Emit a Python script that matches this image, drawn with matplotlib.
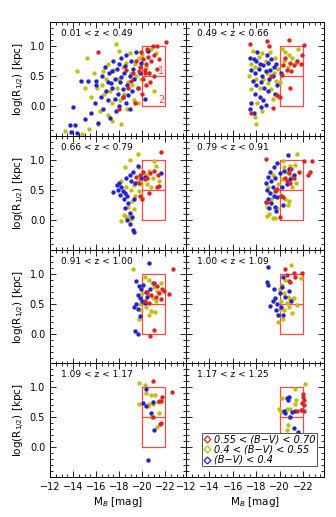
import numpy as np
import matplotlib
matplotlib.use('Agg')
import matplotlib.pyplot as plt
from matplotlib.ticker import MultipleLocator, FixedLocator
from matplotlib.lines import Line2D

# redshift bins (one per panel)
z_labels = ['0.01 < z < 0.49', '0.49 < z < 0.66', '0.66 < z < 0.79', '0.79 < z < 0.91',
            '0.91 < z < 1.00', '1.00 < z < 1.09', '1.09 < z < 1.17', '1.17 < z < 1.25']

# (M_B, log R1/2) per panel, per colour class
blue_pts = [
    [[-13.7,-0.31],[-14.2,-0.31],[-13.8,-0.44],[-14.3,-0.45],[-14.0,-0.02],[-14.7,0.42],[-15.3,0.41],
     [-16.0,0.42],[-16.0,0.35],[-15.0,-0.22],[-15.6,-0.12],[-16.2,-0.28],[-16.6,-0.05],[-17.0,0.10],
     [-17.2,-0.20],[-16.9,0.25],[-17.4,0.30],[-17.6,0.45],[-17.1,0.55],[-17.8,0.62],[-18.0,0.70],
     [-17.5,0.75],[-18.2,0.80],[-18.6,0.85],[-18.4,0.55],[-18.1,0.40],[-17.9,0.20],[-18.3,0.15],
     [-18.6,0.05],[-18.0,0.00],[-17.7,-0.08],[-18.7,0.35],[-18.9,0.50],[-19.2,0.62],[-19.0,0.75],
     [-19.5,0.90],[-19.3,0.45],[-19.6,0.30],[-19.1,0.25],[-18.8,0.18],[-17.3,0.38],[-16.5,0.50],
     [-16.8,0.65],[-19.8,0.55],[-20.2,0.12],[-20.5,0.92],[-19.9,0.72],[-18.5,0.66],[-17.0,0.40],
     [-18.3,0.28],[-18.9,-0.05],[-16.4,0.15],[-15.9,0.05],[-17.6,0.12],[-18.2,0.48],[-17.4,0.58]],
    [[-17.5,0.80],[-17.8,0.78],[-18.0,0.75],[-18.3,0.70],[-18.6,0.68],[-19.0,0.72],[-17.6,0.60],
     [-17.9,0.55],[-18.2,0.62],[-18.5,0.50],[-18.8,0.58],[-19.2,0.60],[-19.5,0.65],[-17.7,0.42],
     [-18.0,0.35],[-18.4,0.40],[-18.7,0.30],[-19.1,0.45],[-19.4,0.50],[-17.9,0.20],[-18.3,0.15],
     [-18.6,0.10],[-19.0,0.25],[-17.6,0.05],[-17.5,-0.05],[-17.8,-0.12],[-18.9,0.85],[-19.3,0.78],
     [-19.7,0.70],[-18.1,0.90],[-19.8,0.35],[-20.1,0.55],[-18.4,-0.02],[-19.6,0.20],[-18.8,0.02]],
    [[-17.5,0.46],[-17.8,0.58],[-18.0,0.62],[-18.2,0.55],[-18.3,0.48],[-18.5,0.45],[-18.7,0.40],
     [-18.4,0.35],[-18.1,0.42],[-18.6,0.70],[-18.9,0.75],[-19.2,0.80],[-19.0,0.65],[-19.4,0.62],
     [-18.8,0.28],[-18.5,0.20],[-18.9,0.12],[-19.1,0.05],[-18.7,0.00],[-18.9,-0.07],[-19.2,-0.17],
     [-19.25,-0.20],[-19.6,0.90],[-19.9,0.70],[-20.2,0.72],[-21.6,0.78],[-19.3,0.35],[-17.9,0.50]],
    [[-20.7,1.08],[-19.8,0.95],[-19.5,0.88],[-19.2,0.80],[-19.0,0.72],[-18.8,0.62],[-19.3,0.65],
     [-19.6,0.70],[-20.0,0.78],[-20.4,0.82],[-20.8,0.85],[-18.9,0.50],[-19.2,0.45],[-19.5,0.40],
     [-19.0,0.35],[-18.8,0.30],[-19.3,0.28],[-19.6,0.22],[-19.1,0.20],[-19.8,0.38],[-20.2,0.55],
     [-20.6,0.60],[-19.4,0.55],[-20.9,0.68],[-21.2,0.75],[-19.7,0.15],[-20.3,0.25]],
    [[-20.6,1.18],[-19.5,0.88],[-19.7,0.80],[-19.9,0.75],[-20.1,0.82],[-20.3,0.70],[-19.6,0.65],
     [-19.8,0.60],[-20.0,0.55],[-19.5,0.50],[-19.3,0.45],[-19.6,0.42],[-20.4,0.62],[-20.7,0.75],
     [-21.0,0.85],[-19.4,0.05],[-19.6,0.00],[-20.2,0.52],[-19.8,0.30]],
    [[-19.05,1.11],[-18.9,0.87],[-19.0,0.82],[-19.5,0.75],[-20.3,0.95],[-20.0,0.68],[-19.6,0.60],
     [-19.4,0.55],[-19.2,0.47],[-19.8,0.50],[-20.1,0.45],[-20.5,0.62],[-20.8,0.72],[-19.9,0.32],
     [-20.3,0.32],[-19.7,0.40],[-20.2,0.78],[-21.0,0.55]],
    [[-20.3,0.97],[-20.1,0.74],[-20.3,0.68],[-20.8,0.57],[-21.0,0.28],[-20.5,-0.22],[-20.9,0.75]],
    [[-20.6,0.82],[-20.7,0.79],[-20.8,0.84],[-20.4,0.60],[-20.45,0.57],[-21.3,0.60],[-21.1,0.58],
     [-20.9,0.50],[-21.2,0.32],[-21.6,0.25]],
]

yellow_pts = [
    [[-13.3,-0.42],[-14.8,-0.46],[-15.4,-0.38],[-14.3,0.58],[-15.0,0.30],[-15.8,0.55],[-16.3,-0.08],
     [-16.7,0.20],[-16.1,0.30],[-15.6,0.15],[-17.0,-0.15],[-17.4,0.05],[-17.8,0.30],[-17.5,0.60],
     [-17.9,0.45],[-18.3,0.65],[-18.0,0.92],[-18.6,0.72],[-18.8,0.40],[-19.1,0.35],[-19.4,0.70],
     [-19.7,0.80],[-19.0,0.55],[-18.4,0.20],[-18.7,-0.05],[-19.3,0.10],[-19.6,0.05],[-20.0,0.85],
     [-20.4,0.92],[-20.8,0.95],[-21.2,0.88],[-20.3,0.65],[-21.0,0.25],[-19.9,0.45],[-17.2,0.25],
     [-16.5,0.35],[-16.9,0.45],[-18.1,0.10],[-18.9,0.88],[-17.7,1.03],[-20.6,0.55],[-17.0,0.70],
     [-19.5,0.50],[-16.2,-0.30],[-17.4,-0.25],[-18.2,-0.30],[-15.2,0.80],[-16.6,0.58]],
    [[-17.6,0.70],[-17.9,0.65],[-18.2,0.82],[-18.5,0.88],[-18.8,0.75],[-19.2,0.90],[-19.5,0.55],
     [-19.9,0.62],[-20.2,0.95],[-20.5,0.90],[-20.8,0.85],[-21.1,0.80],[-20.4,0.75],[-21.4,0.72],
     [-18.0,0.45],[-18.3,0.30],[-18.6,0.45],[-19.0,0.38],[-19.3,0.28],[-19.7,0.42],[-17.6,0.28],
     [-18.1,0.05],[-18.5,-0.08],[-17.9,-0.18],[-18.0,-0.30],[-19.4,0.12],[-19.9,0.15],[-20.0,0.40],
     [-17.4,0.50],[-18.9,0.55],[-21.6,0.95],[-20.7,0.65],[-19.6,0.80],[-17.7,0.92]],
    [[-18.9,1.00],[-19.6,1.10],[-18.2,0.65],[-18.6,0.55],[-19.0,0.50],[-19.3,0.58],[-19.6,0.65],
     [-19.9,0.60],[-20.3,0.75],[-20.6,0.82],[-20.9,0.70],[-21.2,0.90],[-21.5,0.65],[-20.4,0.60],
     [-19.7,0.48],[-19.4,0.40],[-19.1,0.32],[-18.8,0.22],[-18.4,0.08],[-18.6,0.05],[-19.0,0.02],
     [-18.2,-0.02],[-18.8,0.05],[-19.3,0.18],[-20.0,0.38],[-20.8,0.55],[-19.7,0.88],[-18.5,0.88],
     [-21.0,0.98]],
    [[-21.5,1.10],[-20.3,0.98],[-20.9,0.90],[-21.3,0.92],[-20.6,0.80],[-21.0,0.72],[-21.4,0.62],
     [-20.2,0.68],[-19.9,0.60],[-19.4,0.75],[-19.0,0.55],[-19.7,0.48],[-20.1,0.42],[-20.5,0.35],
     [-20.8,0.32],[-19.3,0.35],[-18.9,0.22],[-19.1,0.10],[-18.9,0.07],[-19.4,0.03],[-19.6,0.03],
     [-20.7,0.25],[-21.1,0.55],[-20.4,0.88],[-19.8,0.20]],
    [[-19.2,1.09],[-20.2,0.95],[-20.6,0.90],[-21.0,0.78],[-21.3,0.72],[-20.5,0.65],[-20.0,0.68],
     [-19.8,0.50],[-20.9,0.60],[-20.8,0.38],[-21.1,0.37],[-20.6,0.32],[-19.9,0.40],[-21.6,0.85],
     [-20.3,0.45],[-19.7,0.25],[-21.2,0.55]],
    [[-20.95,1.15],[-21.8,0.93],[-20.5,0.90],[-20.2,0.82],[-20.0,0.75],[-20.4,0.68],[-20.7,0.62],
     [-20.9,0.58],[-21.2,0.60],[-20.1,0.55],[-20.6,0.52],[-21.5,0.48],[-20.0,0.42],[-20.4,0.40],
     [-19.9,0.20],[-20.3,0.25],[-21.1,0.35],[-20.8,0.45]],
    [[-19.7,1.07],[-20.2,1.04],[-20.3,0.90],[-20.8,0.87],[-21.1,0.87],[-19.7,0.71],[-20.6,0.72],
     [-20.9,0.72],[-21.4,0.75],[-21.5,0.57],[-21.3,0.34],[-20.8,0.50],[-20.5,0.68]],
    [[-22.2,1.05],[-21.3,0.96],[-20.2,0.82],[-21.4,0.78],[-21.35,0.71],[-19.95,0.63],[-20.6,0.63],
     [-20.9,0.64],[-20.8,0.50],[-20.7,0.37],[-20.6,0.28],[-20.1,0.58]],
]

red_pts = [
    [[-16.2,0.90],[-18.3,0.15],[-18.0,-0.05],[-18.8,0.30],[-19.2,0.55],[-19.5,0.75],[-19.8,0.65],
     [-20.1,0.78],[-20.3,0.70],[-20.2,0.60],[-20.5,0.82],[-20.8,0.75],[-20.4,0.95],[-20.9,1.00],
     [-21.3,1.00],[-22.1,1.06],[-20.6,0.55],[-20.1,0.45],[-20.7,0.40],[-21.0,0.50],[-20.3,0.35],
     [-19.6,0.30],[-19.0,0.42],[-18.6,0.60],[-19.9,0.90],[-21.3,0.62],[-21.5,0.78],[-20.0,0.20],
     [-19.4,0.05],[-20.2,0.55],[-19.7,0.58],[-21.0,0.85]],
    [[-17.5,1.03],[-18.9,1.08],[-19.1,1.00],[-20.8,1.10],[-22.1,1.02],[-20.5,0.80],[-20.9,0.72],
     [-21.2,0.68],[-21.5,0.75],[-21.8,0.70],[-20.6,0.60],[-21.0,0.58],[-20.3,0.68],[-21.9,0.85],
     [-20.9,0.30],[-20.0,0.15],[-19.4,-0.04],[-19.8,0.18],[-17.6,-0.11],[-19.3,0.50],[-20.2,0.52]],
    [[-21.6,1.13],[-19.8,0.75],[-20.1,0.80],[-20.4,0.70],[-20.7,0.78],[-21.0,0.82],[-21.3,0.55],
     [-21.5,0.56],[-20.6,0.45],[-20.2,0.68],[-19.5,0.72],[-19.8,0.40],[-20.0,0.35],[-19.7,0.62],
     [-21.4,0.75]],
    [[-18.8,1.02],[-22.1,0.98],[-22.8,0.98],[-22.6,0.80],[-22.4,0.75],[-21.7,0.80],[-21.0,0.85],
     [-20.8,0.78],[-20.5,0.70],[-20.9,0.62],[-20.6,0.65],[-20.1,0.40],[-20.3,0.38],[-19.8,0.52],
     [-18.9,0.30],[-20.0,0.05],[-21.2,0.70],[-19.6,0.48]],
    [[-22.7,1.09],[-22.3,0.67],[-20.7,-0.04],[-21.0,0.07],[-20.4,0.70],[-20.8,0.65],[-21.2,0.62],
     [-21.5,0.68],[-21.7,0.75],[-21.3,0.80],[-20.9,0.85],[-21.9,0.72],[-20.2,0.55],[-21.6,0.58],
     [-20.6,0.52]],
    [[-20.5,1.08],[-21.2,1.02],[-21.9,1.02],[-20.8,0.88],[-20.9,0.86],[-21.3,0.95],[-20.6,0.98]],
    [[-20.9,1.10],[-22.6,0.91],[-21.7,0.84],[-21.6,0.77],[-21.5,0.76],[-20.9,0.50],[-21.6,0.40],
     [-21.55,0.38]],
    [[-22.0,0.89],[-22.0,0.84],[-22.1,0.78],[-21.9,0.74],[-22.05,0.70],[-21.5,0.60],[-21.8,0.61],
     [-21.95,0.62],[-22.05,0.60]],
]

legend_labels = ['0.55 < (B\u2212V) < 0.70', '0.4 < (B\u2212V) < 0.55', '(B\u2212V) < 0.4']
c_red = '#dc2424'
c_yel = '#c4bc10'
c_blu = '#2424cc'
c_box = '#ff4848'

x_ticks = [-12, -14, -16, -18, -20, -22]
y_ticks = [0.0, 0.5, 1.0]

fig = plt.figure(figsize=(3.36, 5.17), dpi=100)

lefts = [50 / 336, 186 / 336]
widths = [136 / 336, 138 / 336]
tops = [22, 136, 250, 363]
h = 114 / 517

for i in range(8):
    row, col = divmod(i, 2)
    bottom = 1 - (tops[row] + 114) / 517
    ax = fig.add_axes([lefts[col], bottom, widths[col], h])
    ax.set_xlim(-12, -23.8)
    ax.set_ylim(-0.5, 1.4)

    for pts, c in [(yellow_pts[i], c_yel), (blue_pts[i], c_blu), (red_pts[i], c_red)]:
        a = np.array(pts)
        ax.scatter(a[:, 0], a[:, 1], s=10, marker='o', color=c, lw=0, zorder=3)

    # size boxes 1 and 2
    ax.plot([-20, -22, -22, -20, -20], [0, 0, 1, 1, 0], color=c_box, lw=0.9, zorder=2)
    ax.plot([-20, -22], [0.5, 0.5], color=c_box, lw=0.9, zorder=2)
    if i == 0:
        ax.text(-21.65, 0.58, '1', color=c_box, fontsize=7, ha='center', va='center', zorder=5)
        ax.text(-21.65, 0.1, '2', color=c_box, fontsize=7, ha='center', va='center', zorder=5)

    ax.text(0.08, 0.895, z_labels[i], transform=ax.transAxes, fontsize=6.5, va='center')

    ax.xaxis.set_major_locator(FixedLocator(x_ticks))
    ax.xaxis.set_minor_locator(MultipleLocator(0.5))
    ax.yaxis.set_major_locator(FixedLocator(y_ticks))
    ax.yaxis.set_minor_locator(MultipleLocator(0.1))
    ax.tick_params(which='both', direction='in', top=True, right=True, labelsize=7, width=0.6)
    ax.tick_params(which='major', length=4)
    ax.tick_params(which='minor', length=2)
    for sp in ax.spines.values():
        sp.set_linewidth(0.7)

    if col == 0:
        ax.set_yticklabels(['0.0', '0.5', '1.0'])
        ax.set_ylabel('log(R$_{1/2}$) [kpc]', fontsize=7.5, labelpad=2)
    else:
        ax.set_yticklabels([])
    if row == 3:
        ax.set_xticklabels(['\u2212%d' % abs(t) for t in x_ticks])
        ax.set_xlabel('M$_B$ [mag]', fontsize=7.5, labelpad=2)
    else:
        ax.set_xticklabels([])

    if i == 7:
        handles = [Line2D([], [], marker='D', ls='none', mfc='none', mec=c, ms=3.5, mew=0.9)
                   for c in (c_red, c_yel, c_blu)]
        leg = ax.legend(handles, legend_labels, loc='lower left',
                        prop={'style': 'italic', 'size': 7}, handletextpad=0.3,
                        borderpad=0.15, labelspacing=0.05, handlelength=0.8,
                        fancybox=False, framealpha=1, edgecolor='#555555',
                        bbox_to_anchor=(0.08, 0.05))
        leg.get_frame().set_linewidth(0.7)

fig.savefig('out.png', dpi=100)
